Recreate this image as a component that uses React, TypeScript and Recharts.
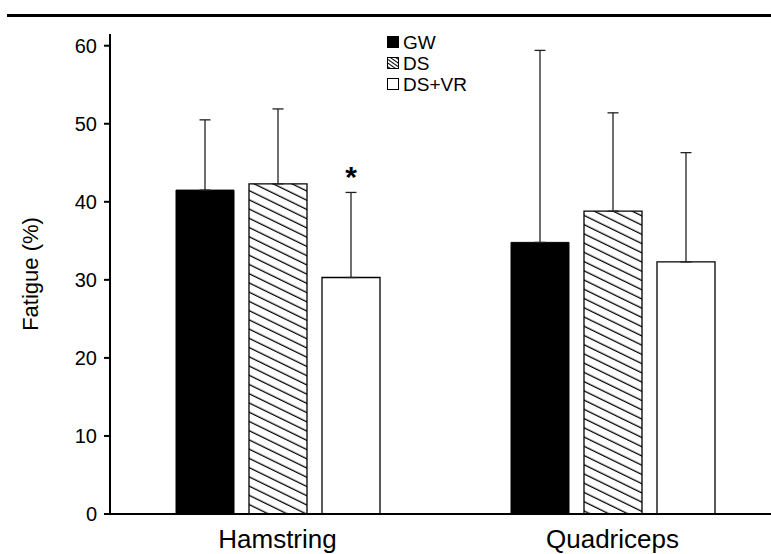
import React from "react";
import { BarChart, Bar, XAxis, YAxis, ErrorBar, Legend } from "recharts";

// Values (mean fatigue % and upward SD)
const muscles = ["Hamstring", "Quadriceps"];
const gwMeans = [41.5, 34.8];
const dsMeans = [42.3, 38.8];
const dsvrMeans = [30.3, 32.3];
const gwSd = [9.0, 24.6];
const dsSd = [9.6, 12.6];
const dsvrSd = [10.9, 14.0];
const sigMarks = ["*", ""];
const yTicks = [0, 10, 20, 30, 40, 50, 60];
const seriesOrder = ["gw", "ds", "dsvr"];

const FONT = "'Liberation Sans', Arial, sans-serif";

const data = muscles.map((m, i) => ({
  muscle: m,
  gw: gwMeans[i],
  ds: dsMeans[i],
  dsvr: dsvrMeans[i],
  gwErr: [0, gwSd[i]],
  dsErr: [0, dsSd[i]],
  dsvrErr: [0, dsvrSd[i]],
}));

// Asterisk placed just above the DS+VR whisker
const StarLabel = (props: any) => {
  const vb = props.viewBox ?? props;
  const { x, y, width, height } = vb;
  const index = props.index;
  if (!sigMarks[index]) return null;
  const value = dsvrMeans[index];
  const pxPerUnit = height / value;
  const top = y - dsvrSd[index] * pxPerUnit;
  return (
    <text
      x={x + width / 2}
      y={top - 5}
      textAnchor="middle"
      fontSize={30}
      fontWeight="bold"
      fontFamily={FONT}
      fill="#000"
    >
      {sigMarks[index]}
    </text>
  );
};

const CategoryTick = (props: any) => {
  const { x, y, payload } = props;
  return (
    <text x={x} y={y + 26} textAnchor="middle" fontSize={26} fontFamily={FONT} fill="#000">
      {payload.value}
    </text>
  );
};

const markerFill: Record<string, string> = {
  gw: "#000",
  ds: "url(#hatchSmall)",
  dsvr: "#fff",
};

const LegendBox = ({ payload }: any) => {
  const items = [...(payload || [])].sort(
    (a: any, b: any) => seriesOrder.indexOf(a.dataKey) - seriesOrder.indexOf(b.dataKey)
  );
  return (
    <div style={{ fontFamily: FONT, fontSize: 19, color: "#000", lineHeight: "21px" }}>
      {items.map((e: any) => (
        <div key={e.value} style={{ display: "flex", alignItems: "center", height: 21 }}>
          <svg width={13} height={13} style={{ marginRight: 3 }}>
            <rect x={0.5} y={0.5} width={11} height={11} fill={markerFill[e.dataKey]} stroke="#000" strokeWidth={1} />
          </svg>
          <span>{e.value}</span>
        </div>
      ))}
    </div>
  );
};

export default function App() {
  return (
    <div
      style={{
        position: "absolute",
        left: 0,
        top: 0,
        width: 771,
        height: 554,
        overflow: "hidden",
        background: "#fff",
      }}
    >
      <svg width={0} height={0} style={{ position: "absolute" }}>
        <defs>
          <pattern id="hatch" width={8.3} height={8.3} patternUnits="userSpaceOnUse" patternTransform="rotate(26)">
            <rect width={8.3} height={8.3} fill="#fff" />
            <line x1={0} y1={4} x2={8.3} y2={4} stroke="#000" strokeWidth={1.3} />
          </pattern>
          <pattern id="hatchSmall" width={3} height={3} patternUnits="userSpaceOnUse" patternTransform="rotate(35)">
            <rect width={3} height={3} fill="#fff" />
            <line x1={0} y1={1.5} x2={3} y2={1.5} stroke="#000" strokeWidth={1} />
          </pattern>
        </defs>
      </svg>
      <div style={{ position: "absolute", left: 7, top: 14, width: 764, height: 3, background: "#000" }} />
      <BarChart
        width={780}
        height={554}
        data={data}
        margin={{ top: 34, right: 0, left: 0, bottom: 0 }}
        barSize={58}
        barGap={15}
      >
        <XAxis
          dataKey="muscle"
          height={40}
          axisLine={{ stroke: "#000", strokeWidth: 2 }}
          tickLine={false}
          tick={<CategoryTick />}
        />
        <YAxis
          width={110}
          domain={[0, 61.5]}
          ticks={yTicks}
          interval={0}
          axisLine={{ stroke: "#000", strokeWidth: 2 }}
          tickLine={{ stroke: "#000", strokeWidth: 2 }}
          tickSize={6}
          tickMargin={7}
          tick={{ fontSize: 20, fontFamily: FONT, fill: "#000" }}
          label={{
            value: "Fatigue (%)",
            angle: -90,
            position: "insideLeft",
            offset: 30,
            style: { fontSize: 22, fontFamily: FONT, fill: "#000", textAnchor: "middle" },
          }}
        />
        <Legend
          layout="vertical"
          align="center"
          verticalAlign="middle"
          content={<LegendBox />}
          wrapperStyle={{ left: 387, top: 32, width: 120, height: 66 }}
        />
        <Bar dataKey="gw" name="GW" fill="#000" stroke="#000" strokeWidth={1} isAnimationActive={false}>
          <ErrorBar dataKey="gwErr" direction="y" width={5.5} stroke="#222" strokeWidth={1.3} />
        </Bar>
        <Bar dataKey="ds" name="DS" fill="url(#hatch)" stroke="#000" strokeWidth={1.3} isAnimationActive={false}>
          <ErrorBar dataKey="dsErr" direction="y" width={5.5} stroke="#222" strokeWidth={1.3} />
        </Bar>
        <Bar
          dataKey="dsvr"
          name="DS+VR"
          fill="#fff"
          stroke="#000"
          strokeWidth={1.3}
          isAnimationActive={false}
          label={(p: any) => <StarLabel {...p} />}
        >
          <ErrorBar dataKey="dsvrErr" direction="y" width={5.5} stroke="#222" strokeWidth={1.3} />
        </Bar>
      </BarChart>
    </div>
  );
}
